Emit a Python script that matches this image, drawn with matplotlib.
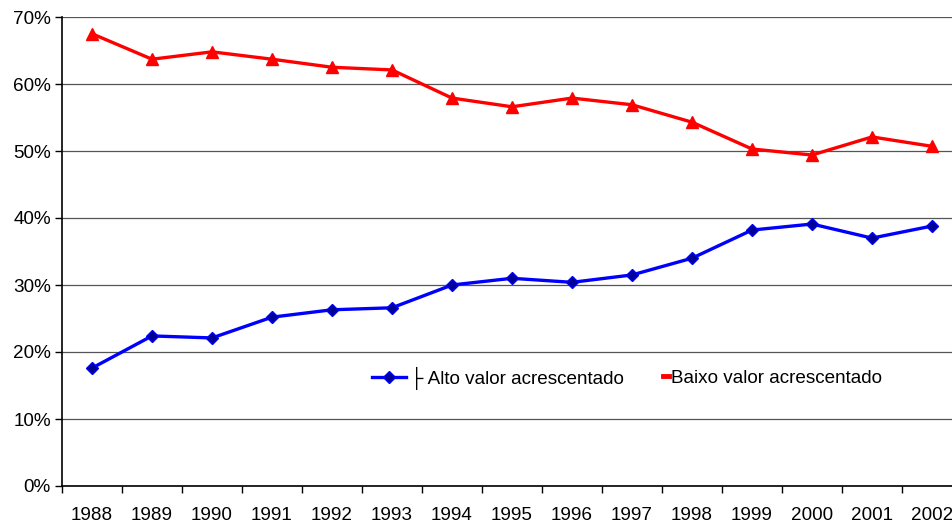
import matplotlib
matplotlib.use("Agg")
import matplotlib.pyplot as plt
from matplotlib.lines import Line2D

years = ["1988", "1989", "1990", "1991", "1992", "1993", "1994", "1995",
         "1996", "1997", "1998", "1999", "2000", "2001", "2002"]
alto = [17.6, 22.4, 22.1, 25.2, 26.3, 26.6, 30.0, 31.0, 30.4, 31.5, 34.0, 38.2, 39.1, 37.0, 38.8]
baixo = [67.5, 63.7, 64.8, 63.7, 62.5, 62.1, 57.9, 56.6, 57.9, 56.9, 54.3, 50.3, 49.4, 52.1, 50.7]
yticks = [0, 10, 20, 30, 40, 50, 60, 70]

plt.rcParams['font.family'] = ['Liberation Sans', 'DejaVu Sans']
FS = 13.6

fig = plt.figure(figsize=(9.52, 5.27), dpi=100)
ax = fig.add_axes([62/952, 41/527, 900/952, 469/527])

x = list(range(len(years)))
ax.plot(x, baixo, color='#ff0000', lw=2.4, marker='^', ms=8, zorder=3)
ax.plot(x, alto, color='#0000ff', lw=2.4, marker='D', ms=6,
        mfc='#000099', mec='#0000ff', zorder=3)

ax.set_xlim(-0.5, len(years) - 0.5)
ax.set_ylim(0, 70)
ax.set_yticks(yticks)
ax.set_yticklabels([f"{v}%" for v in yticks], fontsize=FS)
ax.set_xticks([i - 0.5 for i in range(len(years))])
ax.set_xticklabels([])
ax.set_xticks(x, minor=True)
ax.set_xticklabels(years, minor=True, fontsize=FS)
ax.tick_params(axis='x', which='major', length=5, direction='out', width=1)
ax.tick_params(axis='x', which='minor', length=0, pad=15)
ax.tick_params(axis='y', length=5, direction='out', width=1, pad=3)
ax.yaxis.grid(True, color='#555555', lw=0.9)
ax.set_axisbelow(True)
for s in ['top', 'right']:
    ax.spines[s].set_visible(False)
ax.spines['left'].set_linewidth(1.2)
ax.spines['bottom'].set_linewidth(1.2)

h1 = Line2D([], [], color='#0000ff', lw=2.4, marker='D', ms=6, mfc='#000099', mec='#0000ff')
h2 = Line2D([], [], color='#ff0000', lw=3.5)
fig.legend([h1], ["\u251c Alto valor acrescentado"], frameon=False, fontsize=FS,
           loc='center left', bbox_to_anchor=(372/952, 1 - 378/527),
           handlelength=1.8, handletextpad=0.2, borderaxespad=0, borderpad=0)
fig.legend([h2], ["Baixo valor acrescentado"], frameon=False, fontsize=FS,
           loc='center left', bbox_to_anchor=(663/952, 1 - 378/527),
           handlelength=0.3, handletextpad=0.12, borderaxespad=0, borderpad=0)

fig.savefig("out.png", dpi=100)
